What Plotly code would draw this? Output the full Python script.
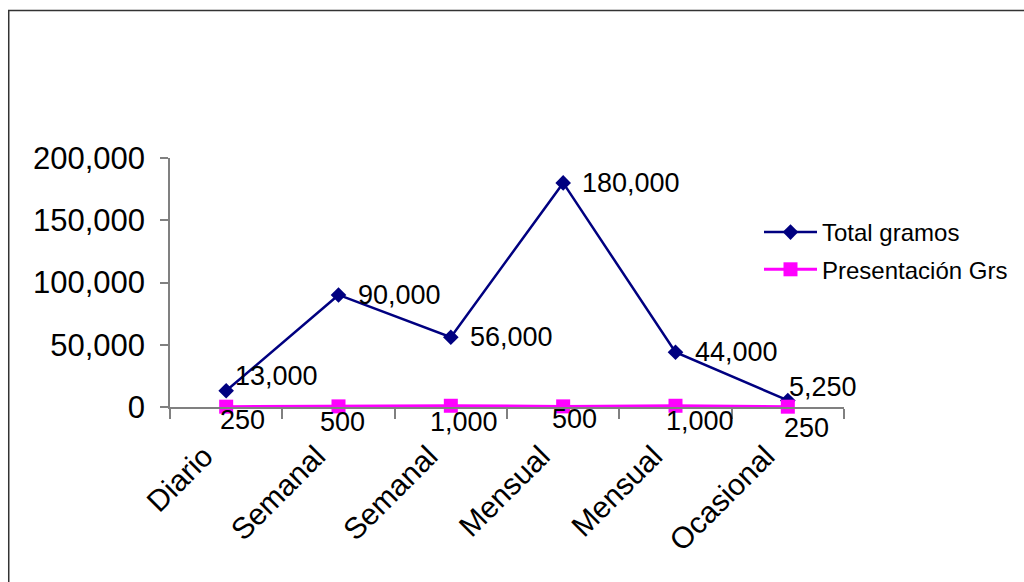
import plotly.graph_objects as go

# Frequency categories (repeated names are distinct positions on the axis)
categories = ["Diario", "Semanal", "Semanal", "Mensual", "Mensual", "Ocasional"]
total_gramos = [13000, 90000, 56000, 180000, 44000, 5250]
presentacion_grs = [250, 500, 1000, 500, 1000, 250]
y_ticks = [0, 50000, 100000, 150000, 200000]

# Label placement (pixel offsets from each point)
total_label_offsets = [(7, 15), (17, 0), (17, 0), (17, 0), (17, 0), (-1, 13)]
pres_label_offsets = [(16, -13), (4, -16), (13, -16), (11, -13), (24, -15), (19, -21)]

FONT = "Liberation Sans, Arial, sans-serif"
W, H = 1024, 582
PLOT_L, PLOT_R, PLOT_T, PLOT_B = 170, 845, 158, 407

xs = list(range(1, len(categories) + 1))

fig = go.Figure()
fig.add_trace(go.Scatter(
    x=xs, y=total_gramos, name="Total gramos", mode="lines+markers",
    legendgroup="total",
    line=dict(color="#000080", width=2.5),
    marker=dict(symbol="diamond", size=12, color="#000080"),
    cliponaxis=False,
))
fig.add_trace(go.Scatter(
    x=xs, y=presentacion_grs, name="Presentación Grs", mode="lines+markers",
    legendgroup="pres",
    line=dict(color="#FF00FF", width=3),
    marker=dict(symbol="square", size=14, color="#FF00FF"),
    cliponaxis=False,
))

annotations = []
for x, v, (dx, dy) in zip(xs, total_gramos, total_label_offsets):
    annotations.append(dict(
        x=x, y=v, xref="x", yref="y", text=f"{v:,}", showarrow=False,
        xanchor="left", yanchor="middle", xshift=dx, yshift=dy,
        font=dict(family=FONT, size=27, color="black"),
    ))
for x, v, (dx, dy) in zip(xs, presentacion_grs, pres_label_offsets):
    annotations.append(dict(
        x=x, y=v, xref="x", yref="y", text=f"{v:,}", showarrow=False,
        xanchor="center", yanchor="middle", xshift=dx, yshift=dy,
        font=dict(family=FONT, size=27, color="black"),
    ))


def px_to_paper_x(px):
    return (px - PLOT_L) / (PLOT_R - PLOT_L)


def px_to_paper_y(py):
    return (PLOT_B - py) / (PLOT_B - PLOT_T)


fig.update_layout(
    width=W, height=H,
    margin=dict(l=PLOT_L, r=W - PLOT_R, t=PLOT_T, b=H - PLOT_B),
    paper_bgcolor="white", plot_bgcolor="white",
    font=dict(family=FONT, color="black"),
    showlegend=True,
    legend=dict(
        x=px_to_paper_x(759), y=px_to_paper_y(210), xanchor="left", yanchor="top",
        font=dict(family=FONT, size=24), itemwidth=53,
        traceorder="grouped", tracegroupgap=3,
        bgcolor="rgba(0,0,0,0)",
    ),
    annotations=annotations,
    shapes=[dict(
        type="rect", xref="paper", yref="paper",
        x0=px_to_paper_x(8.5), x1=px_to_paper_x(W + 10),
        y0=px_to_paper_y(H + 10), y1=px_to_paper_y(10.5),
        line=dict(color="#333333", width=1.5), layer="below",
    )],
)

fig.update_xaxes(
    range=[0.5, len(categories) + 0.5],
    tickmode="array", tickvals=xs, ticktext=categories,
    tickangle=-45, ticks="", showgrid=False, zeroline=False,
    showline=True, linecolor="#808080", linewidth=1.5,
    tickfont=dict(family=FONT, size=30),
    ticklabelstandoff=18, ticklabelshift=-22,
    minor=dict(tickmode="linear", tick0=0.5, dtick=1, ticks="outside",
               ticklen=10, tickcolor="#808080", tickwidth=1.5),
)
fig.update_yaxes(
    range=[0, 200000], tickmode="array", tickvals=y_ticks,
    tickformat=",", ticks="outside", ticklen=8, tickcolor="#808080", tickwidth=1.5,
    showgrid=False, zeroline=False,
    showline=True, linecolor="#808080", linewidth=1.5,
    tickfont=dict(family=FONT, size=31), ticklabelstandoff=9,
)

fig.write_html("out.html")
